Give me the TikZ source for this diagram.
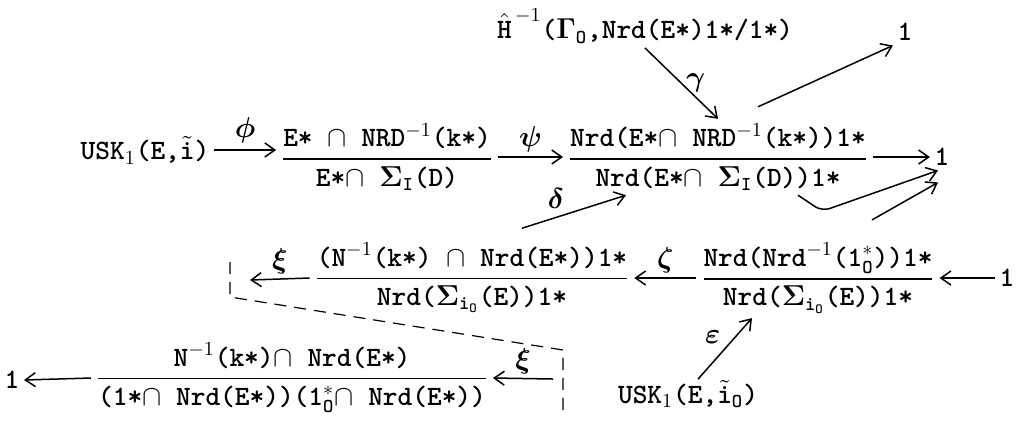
\documentclass[tikz,border=0pt]{standalone}
\usepackage{amsmath}
\usepackage{amssymb}
\newcommand{\qt}[2]{$\genfrac{}{}{0.8pt}{0}{\text{#1}}{\text{#2}}$}
\newcommand{\io}{\text{i}_{\text{O}}}
\usepackage{tikz}
\usetikzlibrary{arrows.meta}

\begin{document}
\begin{tikzpicture}[x=0.5pt, y=-0.5pt, >={Straight Barb[length=5pt,width=7pt]}, line width=0.75pt,
  every node/.style={font=\fontsize{14}{17}\selectfont\ttfamily\bfseries, inner sep=2pt},
  lab/.style={font=\fontsize{15}{17}\selectfont\boldmath, inner sep=2pt}]
  \useasboundingbox (0,0) rectangle (1021,420);

  % top row
  \node (hh) at (645,26) {$\hat{\text{H}}^{\,-1}$($\mathbf{\Gamma}_{\text{O}}$,Nrd(E*)1*/1*)};
  \node (onetop) at (905,32) {1};

  % first row
  \node (usk) at (145,150) {USK$_1$(E,$\tilde{\text{i}}$)};
  \node (fa) at (387,157) {\qt{E* $\cap$ NRD$^{-1}$(k*)}{E*$\cap$ $\mathbf{\Sigma}_{\text{I}}$(D)}};
  \node (fc) at (718,157) {\qt{Nrd(E*$\cap$ NRD$^{-1}$(k*))1*}{Nrd(E*$\cap$ $\mathbf{\Sigma}_{\text{I}}$(D))1*}};
  \node (one1) at (942,157) {1};

  % second row
  \node (fr2) at (472,278) {\qt{(N$^{-1}$(k*) $\cap$ Nrd(E*))1*}{Nrd($\mathbf{\Sigma}_{\io}$(E))1*}};
  \node (fr3) at (818,278) {\qt{Nrd(Nrd$^{-1}$(1$^*_{\text{O}}$))1*}{Nrd($\mathbf{\Sigma}_{\io}$(E))1*}};
  \node (onez) at (1007,278) {1};

  % third row
  \node (oneb) at (12,380) {1};
  \node (fr4) at (292,378) {\qt{N$^{-1}$(k*)$\cap$ Nrd(E*)}{(1*$\cap$ Nrd(E*))(1$^*_{\text{O}}$$\cap$ Nrd(E*))}};
  \node (uskb) at (688,394) {USK$_1$(E,$\tilde{\text{i}}_{\text{O}}$)};

  % the dashed bracket
  \coordinate (ka) at (230,262);
  \coordinate (kb) at (230,297);
  \coordinate (kc) at (563,350);
  \coordinate (kd) at (563,410);
  \coordinate (xa) at (250,280);
  \coordinate (xb) at (553,379);
  \draw[dash pattern=on 6pt off 4pt, line width=0.6pt] (ka) -- (kb) -- (kc) -- (kd);

  % arrows
  \draw[->] (usk.east) -- (fa.west |- usk.east) node[midway, above=1pt, lab] {$\phi$};
  \draw[->] (fa.east) -- (fc.west) node[midway, above, lab] {$\psi$};
  \draw[->] (fc.east) -- (one1.west);
  \draw[->] (hh.south) -- (fc.north) node[midway, right, lab] {$\gamma$};
  \draw[->] ([xshift=20pt,yshift=6pt]fc.north) -- (onetop.south west);
  \draw[->, rounded corners=4pt] ([xshift=40pt]fc.south) -- ++(24,16) -- ([xshift=-2pt]one1.south);
  \draw[->] ([xshift=27pt,yshift=9pt]fr3.north) -- ([xshift=-2pt,yshift=-6pt]one1.south);
  \draw[->] ([xshift=25pt,yshift=5pt]fr2.north) -- ([xshift=-46pt]fc.south) node[pos=0.45, above left, lab] {$\delta$};
  \draw[->] (fr3.west) -- (fr2.east) node[midway, above, lab] {$\zeta$};
  \draw[->] (onez.west) -- (fr3.east);
  \draw[->] (fr2.west) -- (xa) node[midway, above, lab] {$\xi$};
  \draw[->] ([xshift=5pt,yshift=-2pt]uskb.north) -- ([xshift=-33pt]fr3.south) node[midway, above left, lab] {$\varepsilon$};
  \draw[->] (xb) -- (fr4.east) node[midway, above, lab] {$\xi$};
  \draw[->] (fr4.west) -- (oneb.east);
\end{tikzpicture}
\end{document}
